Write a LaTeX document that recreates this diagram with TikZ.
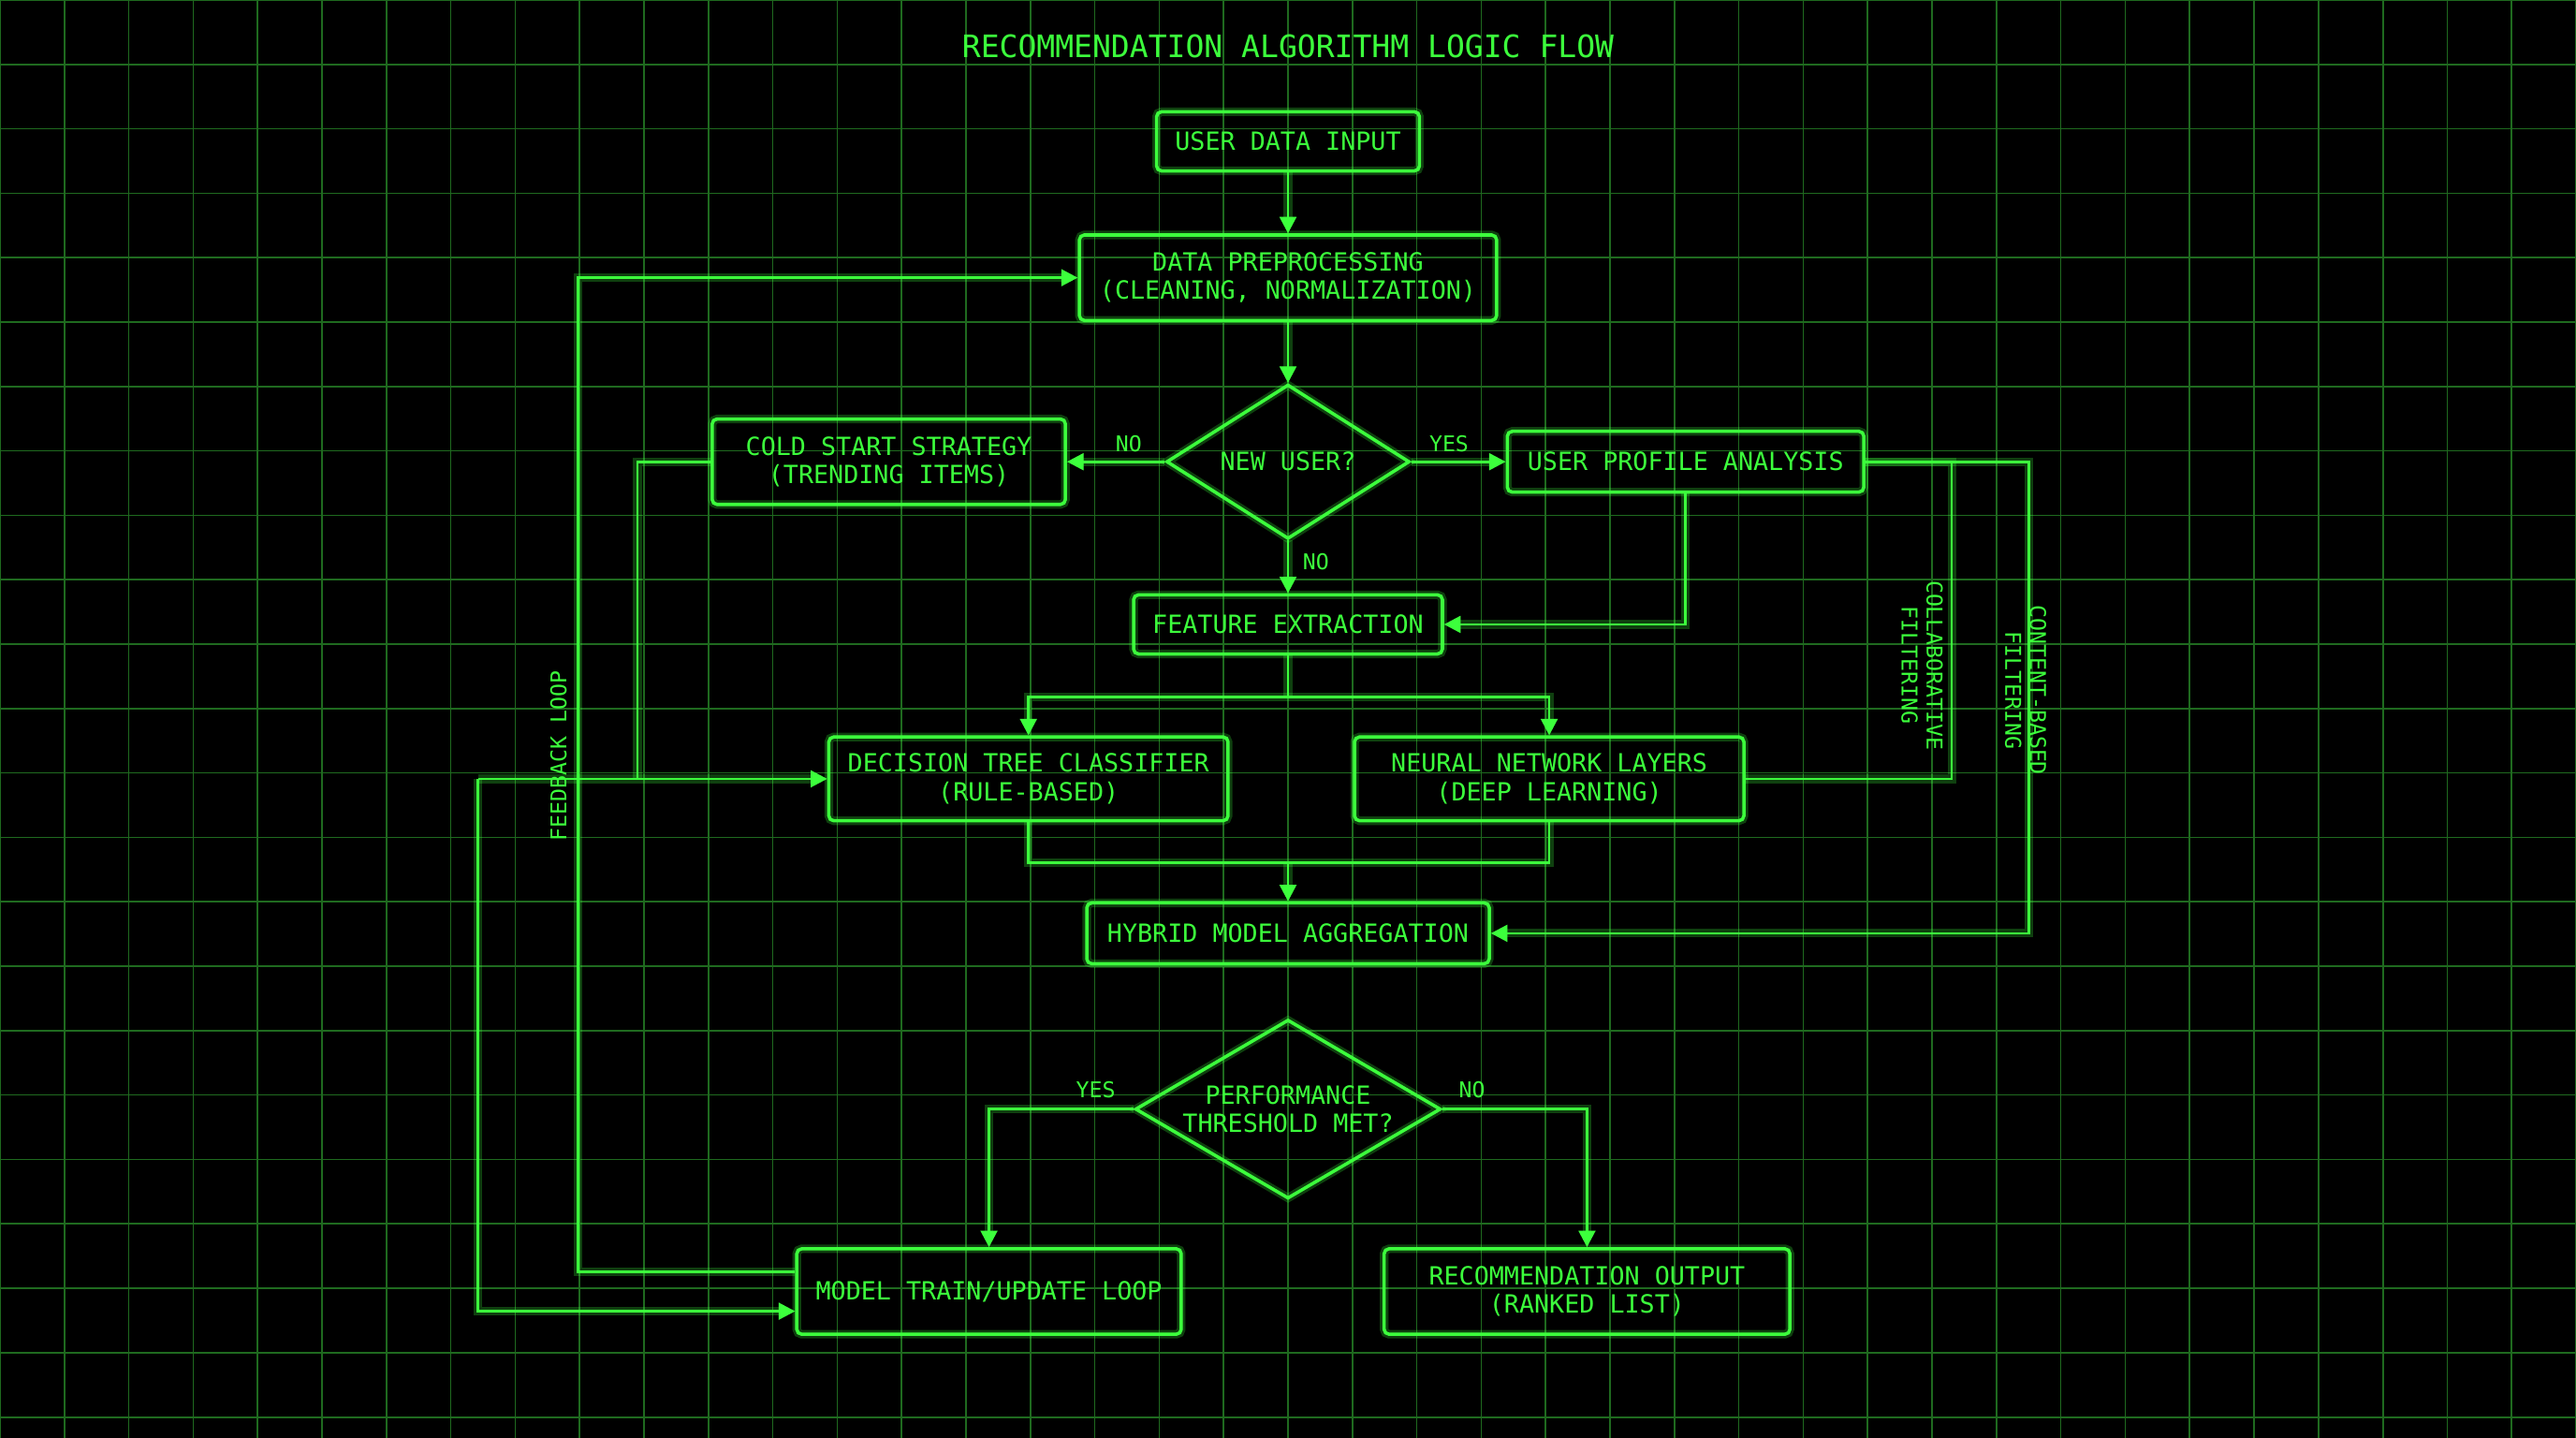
\documentclass[tikz,border=0pt]{standalone}
\usepackage{fontspec}
\setmainfont{DejaVu Sans Mono}
\usetikzlibrary{shapes.geometric,arrows.meta}
\definecolor{neon}{HTML}{3CFF3C}
\definecolor{gridc}{HTML}{1F6A1F}
\begin{document}
\begin{tikzpicture}[x=0.01755cm,y=-0.01755cm,
  glow/.style={preaction={draw,neon,opacity=0.25,line width=2.6pt}},
  box/.style={draw=neon,glow,line width=1pt,rounded corners=1.5pt,text=neon,font=\fontsize{7.6}{8.6}\selectfont,align=center,inner sep=0pt},
  dia/.style={draw=neon,glow,line width=1pt,diamond,aspect=1.6,text=neon,font=\fontsize{7.6}{8.6}\selectfont,align=center,inner sep=0pt},
  con/.style={draw=neon,line width=0.8pt,glow},
  arr/.style={con,-{Triangle[length=5pt,width=5pt]}},
  lab/.style={text=neon,font=\fontsize{6.6}{7.6}\selectfont,align=center,inner sep=0pt}]
\fill[black] (0,0) rectangle (1568,875);
\useasboundingbox (0,0) rectangle (1568,875);
\foreach \i in {0,...,40} \draw[gridc,line width=0.5pt] (\i*39.2,0)--(\i*39.2,875);
\foreach \j in {0,...,22} \draw[gridc,line width=0.5pt] (0,\j*39.2)--(1568,\j*39.2);

\node[lab,font=\fontsize{9.4}{11}\selectfont] (title) at (784,28) {RECOMMENDATION ALGORITHM LOGIC FLOW};
\node[box,minimum width=160*0.01755cm,minimum height=36*0.01755cm] (udi) at (784,86) {USER DATA INPUT};
\node[box,minimum width=254*0.01755cm,minimum height=52*0.01755cm] (dp) at (784,169) {DATA PREPROCESSING\\(CLEANING, NORMALIZATION)};
\node[dia,minimum width=148*0.01755cm,minimum height=94*0.01755cm] (nu) at (784,281) {NEW USER?};
\node[box,minimum width=215*0.01755cm,minimum height=52*0.01755cm] (cs) at (541,281) {COLD START STRATEGY\\(TRENDING ITEMS)};
\node[box,minimum width=217*0.01755cm,minimum height=37*0.01755cm] (up) at (1026,281) {USER PROFILE ANALYSIS};
\node[box,minimum width=188*0.01755cm,minimum height=36*0.01755cm] (fe) at (784,380) {FEATURE EXTRACTION};
\node[box,minimum width=243*0.01755cm,minimum height=51*0.01755cm] (dt) at (626,474) {DECISION TREE CLASSIFIER\\(RULE-BASED)};
\node[box,minimum width=237*0.01755cm,minimum height=51*0.01755cm] (nn) at (943,474) {NEURAL NETWORK LAYERS\\(DEEP LEARNING)};
\node[box,minimum width=245*0.01755cm,minimum height=37*0.01755cm] (hy) at (784,568) {HYBRID MODEL AGGREGATION};
\node[dia,minimum width=186*0.01755cm,minimum height=104*0.01755cm] (pt) at (784,675) {PERFORMANCE\\THRESHOLD MET?};
\node[box,minimum width=234*0.01755cm,minimum height=52*0.01755cm] (mt) at (602,786) {MODEL TRAIN/UPDATE LOOP};
\node[box,minimum width=247*0.01755cm,minimum height=52*0.01755cm] (ro) at (966,786) {RECOMMENDATION OUTPUT\\(RANKED LIST)};

\draw[arr] (udi) -- (dp);
\draw[arr] (dp) -- (nu);
\draw[arr] (nu.west) -- (cs.east);
\draw[arr] (nu.east) -- (up.west);
\draw[arr] (nu.south) -- (fe.north);
\node[lab] (l1) at (687,270) {NO};
\node[lab] (l2) at (882,270) {YES};
\node[lab] (l3) at (801,342) {NO};
\draw[arr] (up.south) |- (fe.east);
\coordinate (split) at (784,424);
\draw[con] (fe.south) -- (split);
\draw[arr] (split) -| (dt.north);
\draw[arr] (split) -| (nn.north);
\coordinate (join) at (784,525);
\draw[con] (dt.south) |- (join);
\draw[con] (nn.south) |- (join);
\draw[arr] (join) -- (hy.north);
\coordinate (cf) at (1188,281);
\draw[con] (up.east) -- (cf) |- (nn.east);
\node[lab,rotate=-90] (cfl) at (1170,405) {COLLABORATIVE\\FILTERING};
\coordinate (cb) at (1235,281);
\draw[arr] (up.east) -- (cb) |- (hy.east);
\node[lab,rotate=-90] (cbl) at (1233,420) {CONTENT-BASED\\FILTERING};
\coordinate (csl) at (388,281);
\draw[con] (cs.west) -- (csl) -- (388,474);
\coordinate (fb) at (291,474);
\draw[arr] (fb) -- (dt.west);
\draw[arr] (fb) -- (291,798) -- (mt.west |- 0,798);
\coordinate (fl) at (352,774);
\draw[arr] (mt.west |- fl) -- (fl) |- (dp.west);
\node[lab,rotate=90] (fbl) at (340,460) {FEEDBACK LOOP};
\draw[arr] (pt.west) -| (mt.north);
\draw[arr] (pt.east) -| (ro.north);
\node[lab] (l4) at (667,663) {YES};
\node[lab] (l5) at (896,663) {NO};
\end{tikzpicture}
\end{document}
